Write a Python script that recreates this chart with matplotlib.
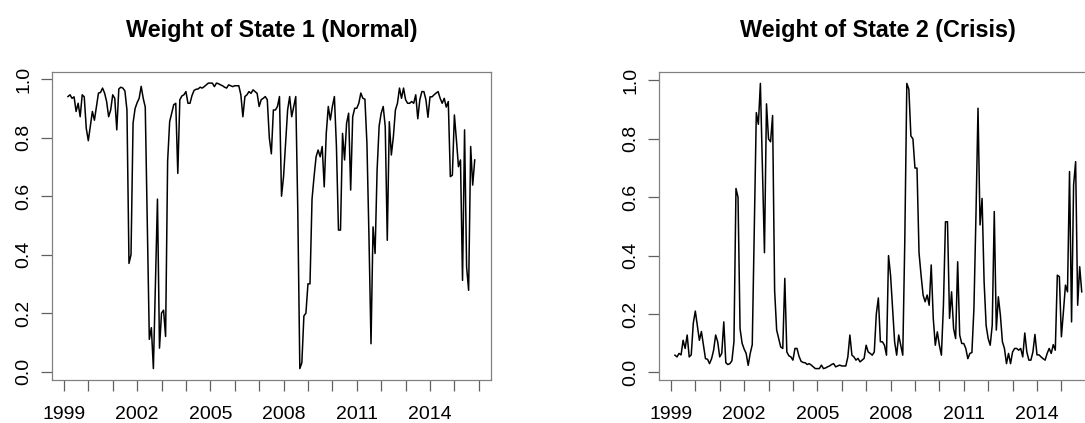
import matplotlib
matplotlib.use('Agg')  # Use non-interactive backend
import matplotlib.pyplot as plt
import numpy as np

plt.rcParams['font.family'] = ['Liberation Sans', 'DejaVu Sans']

# Monthly filtered state weights, Mar 1999 - Nov 2015
start_year = 1999
start_month = 3
freq = 12

weight_normal = [
    0.941, 0.947, 0.935, 0.940, 0.890, 0.918, 0.872, 0.947, 0.940, 0.832,
    0.790, 0.840, 0.890, 0.860, 0.907, 0.953, 0.955, 0.970, 0.953, 0.924,
    0.872, 0.895, 0.947, 0.935, 0.827, 0.967, 0.973, 0.970, 0.960, 0.895,
    0.370, 0.400, 0.850, 0.900, 0.920, 0.935, 0.976, 0.935, 0.905, 0.500,
    0.110, 0.150, 0.010, 0.300, 0.590, 0.080, 0.200, 0.210, 0.120, 0.720,
    0.855, 0.884, 0.913, 0.918, 0.678, 0.930, 0.943, 0.947, 0.958, 0.918,
    0.918, 0.945, 0.962, 0.966, 0.967, 0.973, 0.970, 0.975, 0.981, 0.987,
    0.987, 0.987, 0.975, 0.987, 0.985, 0.981, 0.978, 0.973, 0.970, 0.981,
    0.978, 0.975, 0.978, 0.978, 0.978, 0.947, 0.872, 0.941, 0.947, 0.958,
    0.952, 0.964, 0.958, 0.952, 0.907, 0.930, 0.935, 0.941, 0.930, 0.800,
    0.745, 0.895, 0.895, 0.907, 0.941, 0.600, 0.667, 0.781, 0.895, 0.941,
    0.872, 0.907, 0.941, 0.550, 0.010, 0.030, 0.190, 0.200, 0.300, 0.300,
    0.590, 0.667, 0.735, 0.758, 0.735, 0.770, 0.632, 0.815, 0.907, 0.861,
    0.907, 0.941, 0.770, 0.484, 0.484, 0.815, 0.724, 0.850, 0.884, 0.621,
    0.872, 0.901, 0.901, 0.918, 0.953, 0.935, 0.932, 0.780, 0.460, 0.095,
    0.495, 0.404, 0.690, 0.840, 0.884, 0.907, 0.838, 0.449, 0.855, 0.741,
    0.804, 0.895, 0.918, 0.970, 0.935, 0.970, 0.930, 0.918, 0.918, 0.924,
    0.918, 0.947, 0.865, 0.930, 0.958, 0.958, 0.930, 0.870, 0.940, 0.940,
    0.947, 0.953, 0.958, 0.935, 0.918, 0.935, 0.905, 0.924, 0.667, 0.672,
    0.878, 0.792, 0.701, 0.724, 0.312, 0.827, 0.358, 0.278, 0.770, 0.638,
    0.724,
]

weight_crisis = [
    0.059, 0.053, 0.065, 0.060, 0.110, 0.082, 0.128, 0.053, 0.060, 0.168,
    0.210, 0.160, 0.110, 0.140, 0.093, 0.047, 0.045, 0.030, 0.047, 0.076,
    0.128, 0.105, 0.053, 0.065, 0.173, 0.033, 0.027, 0.030, 0.040, 0.105,
    0.630, 0.600, 0.150, 0.100, 0.080, 0.065, 0.024, 0.065, 0.095, 0.500,
    0.890, 0.850, 0.990, 0.700, 0.410, 0.920, 0.800, 0.790, 0.880, 0.280,
    0.145, 0.116, 0.087, 0.082, 0.322, 0.070, 0.057, 0.053, 0.042, 0.082,
    0.082, 0.055, 0.038, 0.034, 0.033, 0.027, 0.030, 0.025, 0.019, 0.013,
    0.013, 0.013, 0.025, 0.013, 0.015, 0.019, 0.022, 0.027, 0.030, 0.019,
    0.022, 0.025, 0.022, 0.022, 0.022, 0.053, 0.128, 0.059, 0.053, 0.042,
    0.048, 0.036, 0.042, 0.048, 0.093, 0.070, 0.065, 0.059, 0.070, 0.200,
    0.255, 0.105, 0.105, 0.093, 0.059, 0.400, 0.333, 0.219, 0.105, 0.059,
    0.128, 0.093, 0.059, 0.450, 0.990, 0.970, 0.810, 0.800, 0.700, 0.700,
    0.410, 0.333, 0.265, 0.242, 0.265, 0.230, 0.368, 0.185, 0.093, 0.139,
    0.093, 0.059, 0.230, 0.516, 0.516, 0.185, 0.276, 0.150, 0.116, 0.379,
    0.128, 0.099, 0.099, 0.082, 0.047, 0.065, 0.068, 0.220, 0.540, 0.905,
    0.505, 0.596, 0.310, 0.160, 0.116, 0.093, 0.162, 0.551, 0.145, 0.259,
    0.196, 0.105, 0.082, 0.030, 0.065, 0.030, 0.070, 0.082, 0.082, 0.076,
    0.082, 0.053, 0.135, 0.070, 0.042, 0.042, 0.070, 0.130, 0.060, 0.060,
    0.053, 0.047, 0.042, 0.065, 0.082, 0.065, 0.095, 0.076, 0.333, 0.328,
    0.122, 0.208, 0.299, 0.276, 0.688, 0.173, 0.642, 0.722, 0.230, 0.362,
    0.276,
]

year_ticks = list(range(1999, 2017))
year_labels = ['1999', '', '', '2002', '', '', '2005', '', '', '2008', '', '',
               '2011', '', '', '2014', '', '']
y_ticks = [0.0, 0.2, 0.4, 0.6, 0.8, 1.0]

titles = ['Weight of State 1 (Normal)', 'Weight of State 2 (Crisis)']
series = [weight_normal, weight_crisis]

t = start_year + (start_month - 1) / freq + np.arange(len(weight_normal)) / freq

fig = plt.figure(figsize=(10.85, 4.23), dpi=100)
W, H = 1085, 423
# axes boxes in pixels: left, right, top, bottom (right panel runs past the edge)
boxes = [(51.7, 491.0, 71.7, 380.0), (658.7, 1098.0, 72.0, 380.0)]

for (l, r, top, bot), vals, title in zip(boxes, series, titles):
    ax = fig.add_axes([l / W, (H - bot) / H, (r - l) / W, (bot - top) / H])
    ax.plot(t, vals, color='black', linewidth=1.1)

    # R-style 4% padding on both axes
    dx = t[-1] - t[0]
    ax.set_xlim(t[0] - 0.04 * dx, t[-1] + 0.04 * dx)
    lo, hi = min(vals), max(vals)
    dy = hi - lo
    ax.set_ylim(lo - 0.04 * dy, hi + 0.04 * dy)

    ax.set_xticks(year_ticks)
    ax.set_xticklabels(year_labels)
    ax.set_yticks(y_ticks)
    ax.set_yticklabels(['%.1f' % v for v in y_ticks], rotation=90, va='center')

    for s in ax.spines.values():
        s.set_color('#808080')
        s.set_linewidth(0.9)
    ax.tick_params(direction='out', length=8, width=0.9, color='#606060',
                   labelsize=14, labelcolor='black')
    ax.tick_params(axis='x', pad=10.5)
    ax.tick_params(axis='y', pad=6)

    ax.set_title(title, fontsize=16.8, fontweight='bold', pad=25)

fig.savefig('out.png', dpi=100)
